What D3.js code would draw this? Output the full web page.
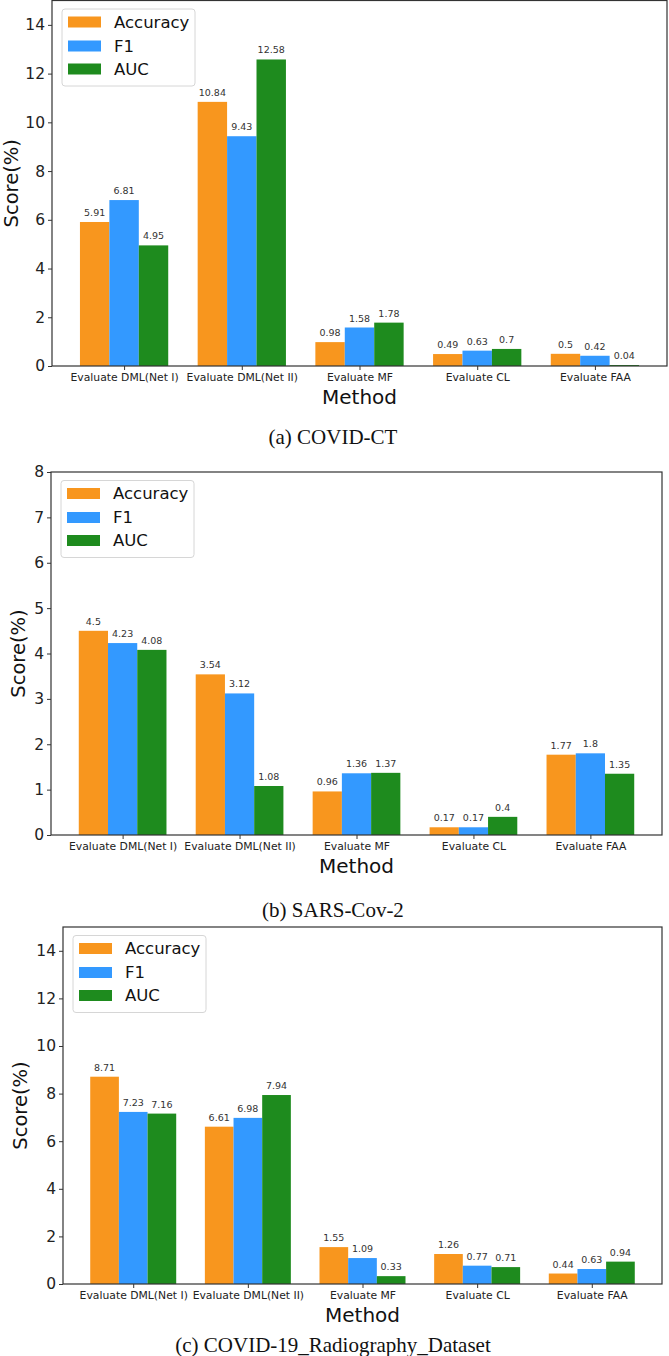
<!DOCTYPE html>
<html><head><meta charset="utf-8">
<script src="https://cdn.jsdelivr.net/npm/d3@7"></script>
<style>
html,body{margin:0;padding:0;background:#fff;}
svg{display:block;}
</style></head>
<body>
<script>
const methods = ["Evaluate DML(Net I)", "Evaluate DML(Net II)", "Evaluate MF", "Evaluate CL", "Evaluate FAA"];
const seriesNames = ["Accuracy", "F1", "AUC"];
const seriesColors = ["#F8961E", "#3399FF", "#1E8B1E"];

const ctAccuracy = [5.91, 10.84, 0.98, 0.49, 0.5];
const ctF1 = [6.81, 9.43, 1.58, 0.63, 0.42];
const ctAUC = [4.95, 12.58, 1.78, 0.7, 0.04];
const ctTicks = [0, 2, 4, 6, 8, 10, 12, 14];

const sarsAccuracy = [4.5, 3.54, 0.96, 0.17, 1.77];
const sarsF1 = [4.23, 3.12, 1.36, 0.17, 1.8];
const sarsAUC = [4.08, 1.08, 1.37, 0.4, 1.35];
const sarsTicks = [0, 1, 2, 3, 4, 5, 6, 7, 8];

const radioAccuracy = [8.71, 6.61, 1.55, 1.26, 0.44];
const radioF1 = [7.23, 6.98, 1.09, 0.77, 0.63];
const radioAUC = [7.16, 7.94, 0.33, 0.71, 0.94];
const radioTicks = [0, 2, 4, 6, 8, 10, 12, 14];

const captions = ["(a) COVID-CT", "(b) SARS-Cov-2", "(c) COVID-19_Radiography_Dataset"];

const W = 669, H = 1356;
const svg = d3.select("body").append("svg").attr("width", W).attr("height", H);

const panels = [
  {series: [ctAccuracy, ctF1, ctAUC], ticks: ctTicks, ymax: 15, left: 52, right: 667, top: 0.5, bottom: 366, captionY: 437, caption: captions[0], scoreX: 11},
  {series: [sarsAccuracy, sarsF1, sarsAUC], ticks: sarsTicks, ymax: 8, left: 51, right: 662, top: 472, bottom: 835, captionY: 910, caption: captions[1], scoreX: 18},
  {series: [radioAccuracy, radioF1, radioAUC], ticks: radioTicks, ymax: 15, left: 63, right: 662, top: 927, bottom: 1284, captionY: 1345, caption: captions[2], scoreX: 20}
];

const sans = "'DejaVu Sans', sans-serif";
const axisColor = "#333";

panels.forEach(p => {
  const g = svg.append("g");
  const x = d3.scaleLinear().domain([-0.6125, 4.6125]).range([p.left, p.right]);
  const y = d3.scaleLinear().domain([0, p.ymax]).range([p.bottom, p.top]);
  const bw = 0.25;

  // bars
  p.series.forEach((vals, j) => {
    const sg = g.append("g");
    sg.selectAll("rect").data(vals).join("rect")
      .attr("x", (d, i) => x(i + (j - 1) * bw - bw / 2))
      .attr("width", (d, i) => x(i + (j - 1) * bw + bw / 2) - x(i + (j - 1) * bw - bw / 2))
      .attr("y", d => y(d))
      .attr("height", d => y(0) - y(d))
      .attr("fill", seriesColors[j]);
    sg.selectAll("text").data(vals).join("text")
      .attr("x", (d, i) => x(i + (j - 1) * bw))
      .attr("y", d => y(d) - 6)
      .attr("text-anchor", "middle")
      .attr("font-family", sans)
      .attr("font-size", 9.5)
      .attr("fill", "#333")
      .text(d => String(d));
  });

  // frame
  g.append("rect")
    .attr("x", p.left).attr("y", p.top)
    .attr("width", p.right - p.left).attr("height", p.bottom - p.top)
    .attr("fill", "none").attr("stroke", axisColor).attr("stroke-width", 1.2);

  // y axis
  const yAxis = d3.axisLeft(y).tickValues(p.ticks).tickSize(4).tickPadding(3).tickFormat(d3.format("d"));
  const ya = g.append("g").attr("transform", `translate(${p.left},0)`).call(yAxis);
  ya.select(".domain").remove();
  ya.selectAll("line").attr("stroke", axisColor);
  ya.selectAll("text").attr("font-family", sans).attr("font-size", 15.5).attr("fill", "#222");

  // x axis
  const xAxis = d3.axisBottom(x).tickValues(d3.range(methods.length)).tickSize(4).tickPadding(3)
    .tickFormat(i => methods[i]);
  const xa = g.append("g").attr("transform", `translate(0,${p.bottom})`).call(xAxis);
  xa.select(".domain").remove();
  xa.selectAll("line").attr("stroke", axisColor);
  xa.selectAll("text").attr("font-family", sans).attr("font-size", 10.8).attr("fill", "#222");

  // axis labels
  g.append("text")
    .attr("x", (p.left + p.right) / 2).attr("y", p.bottom + 38)
    .attr("text-anchor", "middle").attr("font-family", sans).attr("font-size", 20).attr("fill", "#111")
    .text("Method");
  g.append("text")
    .attr("transform", `translate(${p.scoreX},${(p.top + p.bottom) / 2}) rotate(-90)`)
    .attr("text-anchor", "middle").attr("dy", "0.35em").attr("font-family", sans).attr("font-size", 19.5).attr("fill", "#111")
    .text("Score(%)");

  // legend
  const lg = g.append("g").attr("transform", `translate(${p.left + 10},${p.top + 8.5})`);
  lg.append("rect").attr("x", 0).attr("y", 0).attr("width", 133).attr("height", 77)
    .attr("rx", 3).attr("fill", "#fff").attr("stroke", "#d6d6d6").attr("stroke-width", 1);
  const rowsY = [13, 37, 60];
  seriesNames.forEach((name, j) => {
    lg.append("rect").attr("x", 6).attr("y", rowsY[j] - 5.5).attr("width", 33).attr("height", 11)
      .attr("fill", seriesColors[j]);
    lg.append("text").attr("x", 52).attr("y", rowsY[j]).attr("dy", "0.36em")
      .attr("font-family", sans).attr("font-size", 16.5).attr("fill", "#111").text(name);
  });

  // caption
  svg.append("text")
    .attr("x", 333).attr("y", p.captionY).attr("dy", "0.35em")
    .attr("text-anchor", "middle")
    .attr("font-family", "'Liberation Serif', 'Times New Roman', serif")
    .attr("font-size", 21).attr("fill", "#111")
    .text(p.caption);
});
</script>
</body></html>
